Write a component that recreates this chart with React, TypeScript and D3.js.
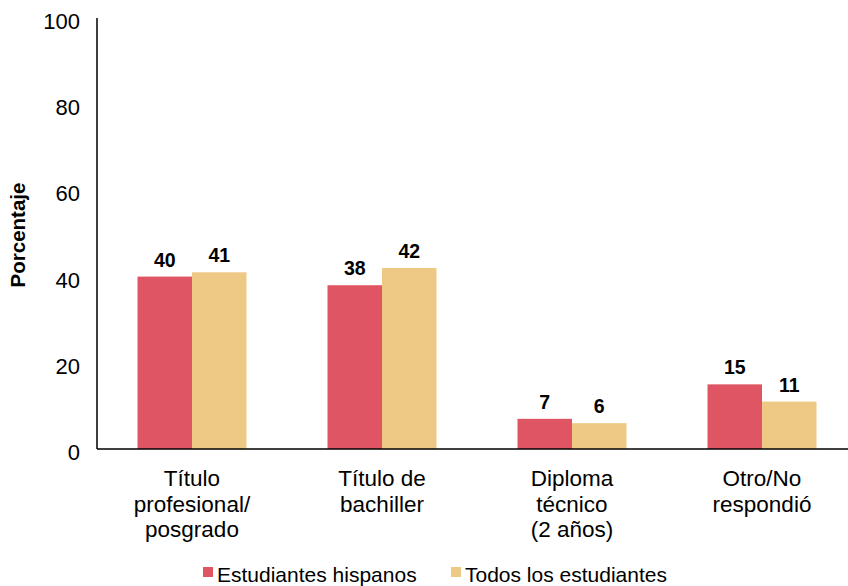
import React from "react";
import * as d3 from "d3";

const categories = ["Título profesional/ posgrado", "Título de bachiller", "Diploma técnico (2 años)", "Otro/No respondió"];
const categoryLines = [["Título", "profesional/", "posgrado"], ["Título de", "bachiller"], ["Diploma", "técnico", "(2 años)"], ["Otro/No", "respondió"]];
const hispanos = [40, 38, 7, 15];
const todos = [41, 42, 6, 11];
const seriesNames = ["Estudiantes hispanos", "Todos los estudiantes"];
const colors = ["#E05563", "#EDC985"];
const yTicks = [0, 20, 40, 60, 80, 100];

export default function App() {
  const W = 848, H = 586;
  const x0 = 97, x1 = 857, yTop = 18, yBot = 449;
  const x = d3.scaleBand<string>().domain(categories).range([x0, x1]).paddingInner(0).paddingOuter(0);
  const y = d3.scaleLinear().domain([0, 100]).range([yBot, yTop]);
  const barW = 54.5;
  const font = "'Liberation Sans', Arial, Helvetica, sans-serif";
  const series = [hispanos, todos];
  return (
    <svg width={W} height={H} style={{ position: "absolute", left: 0, top: 0 }} fontFamily={font}>
      <rect width={W} height={H} fill="#fff" />
      {categories.map((c, i) => {
        const cx = x(c)! + x.bandwidth() / 2;
        return (
          <g key={c}>
            {series.map((s, k) => {
              const bx = cx - barW + k * barW;
              return (
                <g key={k}>
                  <rect x={bx} y={y(s[i])} width={barW} height={yBot - y(s[i])} fill={colors[k]} />
                  <text x={bx + barW / 2} y={y(s[i]) - 10} textAnchor="middle" fontSize={19.5} fontWeight="bold" fill="#000">{s[i]}</text>
                </g>
              );
            })}
            {categoryLines[i].map((ln, j) => (
              <text key={j} x={cx} y={486 + j * 25.5} textAnchor="middle" fontSize={22.5} fill="#000">{ln}</text>
            ))}
          </g>
        );
      })}
      <line x1={x0} x2={x0} y1={yTop} y2={yBot} stroke="#000" strokeWidth={1.5} />
      <line x1={x0} x2={W} y1={yBot} y2={yBot} stroke="#000" strokeWidth={1.5} />
      {yTicks.map((t) => (
        <text key={t} x={80} y={y(t) + 11} textAnchor="end" fontSize={22} fill="#000">{t}</text>
      ))}
      <text transform={`translate(25,235) rotate(-90)`} textAnchor="middle" fontSize={20.5} fontWeight="bold" fill="#000">Porcentaje</text>
      {seriesNames.map((n, k) => {
        const lx = [203, 451][k];
        return (
          <g key={n}>
            <rect x={lx} y={567} width={10} height={10} fill={colors[k]} />
            <text x={lx + 14} y={582} fontSize={21} fill="#000">{n}</text>
          </g>
        );
      })}
    </svg>
  );
}
